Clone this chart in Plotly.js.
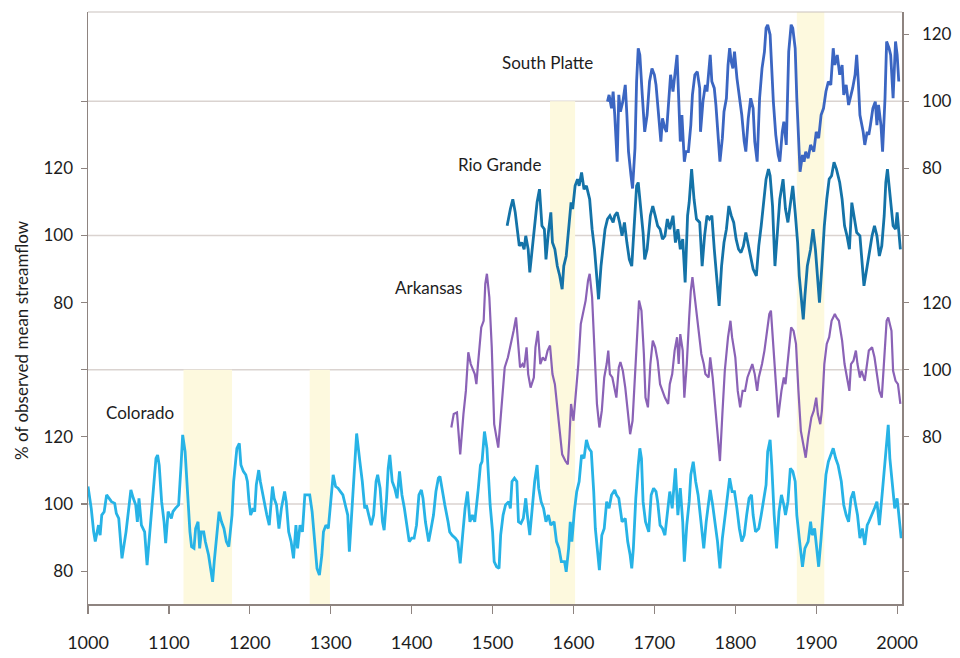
<!DOCTYPE html>
<html>
<head>
<meta charset="utf-8">
<script src="https://cdn.plot.ly/plotly-3.0.1.min.js"></script>
<style>
  html, body { margin: 0; padding: 0; background: #ffffff; }
  #chart { width: 960px; height: 658px; }
</style>
</head>
<body>
<div id="chart"></div>
<script>
// Reconstructed streamflow, % of observed mean, for four western rivers.

const coloradoYears = [
  1000,1004,1007,1009,1013,1015,1017,1020,1023,1026,
  1029,1033,1035,1038,1042,1047,1050,1053,1056,1059,
  1061,1063,1066,1070,1073,1077,1081,1084,1086,1088,
  1091,1094,1096,1099,1103,1105,1108,1112,1115,1117,
  1120,1123,1126,1128,1131,1133,1136,1138,1140,1143,
  1145,1149,1152,1154,1156,1159,1162,1165,1168,1171,
  1174,1178,1180,1184,1187,1189,1192,1195,1197,1199,
  1201,1204,1206,1208,1211,1213,1216,1219,1221,1224,
  1226,1228,1230,1233,1236,1239,1243,1245,1248,1251,
  1254,1257,1259,1262,1265,1268,1272,1274,1277,1280,
  1283,1286,1289,1291,1294,1297,1300,1303,1306,1309,
  1312,1315,1318,1321,1323,1326,1328,1332,1336,1339,
  1342,1344,1347,1350,1353,1356,1358,1361,1364,1366,
  1369,1371,1373,1376,1379,1382,1385,1388,1391,1394,
  1397,1400,1403,1406,1409,1412,1414,1417,1421,1424,
  1427,1430,1433,1435,1438,1441,1445,1447,1450,1454,
  1457,1460,1463,1466,1469,1472,1475,1478,1482,1485,
  1487,1490,1493,1495,1497,1500,1502,1505,1508,1510,
  1513,1516,1520,1522,1524,1527,1530,1532,1535,1538,
  1541,1543,1546,1549,1552,1555,1557,1560,1563,1566,
  1569,1572,1576,1579,1582,1585,1589,1591,1594,1596,
  1598,1601,1604,1607,1610,1613,1616,1619,1622,1625,
  1627,1632,1635,1638,1641,1644,1647,1651,1653,1656,
  1660,1664,1667,1670,1672,1674,1677,1680,1682,1684,
  1686,1689,1693,1696,1699,1702,1704,1707,1710,1713,
  1717,1719,1722,1724,1726,1729,1732,1735,1737,1740,
  1743,1745,1748,1751,1754,1758,1761,1764,1767,1769,
  1772,1775,1778,1781,1784,1787,1791,1793,1796,1799,
  1802,1805,1808,1811,1814,1817,1820,1822,1825,1829,
  1832,1835,1838,1840,1843,1845,1848,1851,1854,1857,
  1860,1862,1865,1868,1871,1874,1876,1879,1881,1883,
  1886,1890,1893,1895,1898,1901,1903,1906,1909,1912,
  1915,1918,1921,1924,1927,1931,1934,1937,1940,1943,
  1946,1948,1951,1954,1957,1960,1963,1965,1969,1972,
  1975,1978,1981,1984,1987,1989,1991,1994,1997,2000,
  2003,2005
];
const coloradoFlow = [
  105.2,98.7,91.7,88.8,93.7,90.7,96.7,97.7,102.7,101.7,
  100.7,100.2,97.2,95.7,83.8,91.7,98.7,104.2,101.7,99.7,
  94.7,101.7,93.7,91.7,81.8,93.7,106.7,113.6,114.6,111.6,
  100.7,94.7,88.3,97.7,95.7,97.7,98.7,99.7,111.6,120.6,
  115.6,102.7,91.7,87.3,86.8,92.7,94.7,86.8,91.7,91.7,
  88.8,84.8,79.8,76.8,82.8,90.7,97.7,94.7,92.7,88.8,
  87.3,96.7,106.7,116.6,118.1,111.6,109.7,108.7,106.7,100.7,
  96.7,98.7,97.7,105.7,110.1,106.7,102.7,98.7,96.7,93.7,
  100.7,105.2,101.7,99.7,92.7,98.7,103.7,100.7,91.7,88.8,
  83.8,93.7,86.8,93.7,91.7,102.7,102.7,102.7,97.7,89.8,
  80.8,78.8,84.8,91.7,93.7,92.7,101.7,108.7,105.2,104.7,
  103.7,102.7,99.7,96.7,85.8,96.7,106.7,121.0,112.6,106.7,
  98.7,99.7,96.7,93.7,96.7,106.7,108.7,104.7,94.7,92.2,
  101.7,110.6,114.6,106.7,104.7,101.7,109.7,102.7,98.7,93.7,
  88.8,89.8,89.8,93.7,102.7,104.2,101.7,94.7,88.8,92.7,
  96.7,103.7,107.7,108.2,103.7,99.7,94.7,91.7,90.7,89.8,
  88.8,82.3,90.7,98.7,103.7,94.7,96.7,94.7,103.7,111.6,
  112.6,121.6,116.6,108.7,99.7,91.7,82.8,81.3,80.8,90.7,
  96.7,99.7,100.7,98.7,106.7,107.7,106.7,94.7,94.2,95.7,
  101.7,96.7,90.7,98.7,106.7,111.6,104.7,100.7,98.7,94.7,
  96.7,93.7,94.7,88.8,86.8,82.8,82.8,79.8,86.8,94.7,
  88.8,97.7,103.7,106.7,114.6,113.6,119.1,116.6,115.6,103.7,
  92.7,80.3,90.7,92.7,100.7,98.7,102.7,104.2,102.7,101.7,
  94.7,95.7,88.8,84.8,80.8,86.8,101.7,111.6,116.6,113.6,
  100.7,94.7,91.7,102.7,104.7,103.7,100.7,93.7,92.7,90.7,
  98.7,103.7,98.7,104.7,110.6,96.7,104.7,94.7,82.8,93.7,
  100.7,108.7,112.6,106.7,102.7,93.7,86.8,94.7,100.7,104.2,
  99.7,93.7,88.8,80.8,89.8,95.7,102.7,107.7,103.7,103.7,
  98.7,92.7,88.8,90.7,96.7,101.7,102.7,96.7,91.7,92.7,
  96.7,101.7,105.7,115.6,119.1,111.6,96.7,86.8,97.7,102.7,
  99.7,96.7,100.7,110.6,109.7,106.7,96.7,89.8,84.8,81.3,
  86.8,88.8,94.7,90.7,92.7,84.8,81.3,89.8,100.7,108.7,
  112.6,114.6,116.6,113.6,111.6,106.7,99.7,96.7,94.7,101.7,
  103.7,100.7,96.7,89.8,92.7,87.8,93.7,94.7,96.7,98.7,
  100.7,93.7,101.7,110.6,118.6,123.6,113.6,106.7,98.7,101.7,
  94.7,89.8
];

const arkansasYears = [
  1449,1452,1456,1460,1464,1467,1470,1473,1478,1480,
  1482,1486,1489,1491,1493,1496,1499,1502,1507,1511,
  1515,1519,1522,1526,1529,1531,1534,1537,1539,1542,
  1544,1547,1551,1553,1556,1559,1562,1565,1568,1571,
  1574,1577,1581,1584,1586,1590,1593,1595,1597,1600,
  1603,1606,1609,1612,1615,1618,1620,1623,1626,1629,
  1632,1635,1638,1641,1643,1645,1648,1651,1653,1656,
  1658,1661,1664,1667,1670,1673,1676,1679,1681,1684,
  1687,1689,1692,1695,1698,1701,1704,1707,1710,1713,
  1717,1719,1722,1725,1728,1730,1732,1735,1737,1740,
  1743,1745,1747,1750,1752,1755,1758,1761,1763,1767,
  1769,1772,1775,1778,1781,1784,1787,1791,1794,1796,
  1800,1803,1806,1809,1812,1815,1818,1821,1824,1827,
  1829,1833,1836,1839,1842,1844,1847,1850,1853,1857,
  1860,1862,1866,1869,1872,1875,1878,1881,1884,1887,
  1890,1894,1897,1900,1902,1905,1907,1910,1913,1916,
  1919,1923,1925,1928,1932,1935,1938,1941,1943,1946,
  1949,1951,1954,1956,1960,1963,1965,1969,1972,1975,
  1978,1981,1984,1987,1989,1993,1995,1998,2001,2004
];
const arkansasFlow = [
  82.8,86.8,87.3,74.8,86.8,93.7,105.2,101.7,98.7,95.7,
  101.7,112.6,114.6,125.6,128.6,121.6,106.7,83.8,76.8,88.8,
  100.7,103.7,106.7,111.6,115.6,108.7,100.7,101.7,100.7,106.7,
  98.7,94.7,97.7,106.7,111.6,101.7,103.7,102.7,105.7,107.2,
  98.7,95.7,86.8,79.8,74.8,72.8,71.8,79.8,89.8,84.8,
  93.7,101.7,113.6,117.6,120.6,126.6,128.6,121.6,106.7,89.8,
  82.8,87.8,97.7,101.7,105.7,98.7,97.7,93.7,91.7,100.7,
  102.3,99.7,94.7,87.8,80.8,84.8,99.7,111.6,120.6,117.6,
  104.7,91.7,88.8,101.7,108.7,106.7,102.7,95.7,93.7,91.7,
  89.8,95.7,98.7,105.7,109.7,101.7,110.6,105.7,91.7,101.7,
  115.6,123.6,127.6,121.6,116.6,111.6,104.7,101.7,98.7,97.7,
  103.7,97.7,89.8,81.8,72.8,86.8,99.7,109.7,114.6,109.7,
  103.7,93.7,88.8,93.7,93.7,97.7,99.7,101.7,98.7,93.7,
  97.7,101.7,105.7,111.6,116.6,117.6,106.7,93.7,85.8,93.7,
  97.7,95.7,106.7,112.6,111.6,107.7,93.7,81.8,77.8,73.8,
  79.8,85.8,87.8,91.7,86.8,83.8,87.8,101.7,107.7,109.7,
  114.6,116.6,115.6,114.6,108.7,101.7,97.7,93.7,101.7,102.7,
  105.7,101.7,97.7,99.7,96.7,101.7,105.7,106.7,103.7,98.7,
  93.7,91.7,101.7,114.6,115.6,111.6,99.7,96.7,95.7,89.8
];

const rioGrandeYears = [
  1518,1520,1522,1525,1528,1531,1533,1536,1539,1541,
  1544,1546,1550,1553,1555,1558,1561,1564,1566,1569,
  1572,1574,1577,1580,1583,1586,1588,1591,1594,1597,
  1599,1602,1605,1607,1610,1613,1616,1620,1623,1626,
  1628,1631,1634,1636,1639,1642,1645,1649,1651,1654,
  1657,1660,1663,1666,1669,1672,1675,1678,1680,1682,
  1686,1688,1691,1695,1698,1701,1704,1707,1710,1713,
  1716,1719,1723,1726,1729,1732,1735,1738,1741,1743,
  1746,1749,1752,1756,1759,1762,1765,1768,1771,1774,
  1777,1780,1783,1786,1789,1792,1795,1798,1801,1804,
  1807,1810,1813,1816,1819,1822,1826,1829,1832,1835,
  1838,1841,1843,1846,1849,1852,1855,1859,1862,1865,
  1868,1871,1874,1877,1879,1882,1884,1886,1889,1893,
  1896,1899,1902,1904,1907,1910,1913,1916,1919,1922,
  1925,1929,1932,1935,1938,1941,1944,1947,1950,1954,
  1956,1959,1963,1966,1969,1972,1975,1978,1981,1984,
  1986,1988,1991,1995,1998,2000,2004
];
const rioGrandeFlow = [
  102.9,105.9,107.9,110.8,106.9,100.9,96.9,97.9,95.9,99.9,
  95.9,89.0,97.9,105.9,109.9,113.8,102.9,101.9,92.9,100.9,
  106.9,97.9,95.9,90.9,88.0,84.0,90.9,93.9,101.9,109.9,
  107.9,114.8,116.8,114.8,118.8,113.8,114.8,110.8,101.9,95.9,
  90.0,81.0,90.9,95.9,101.9,104.9,105.9,103.9,105.9,106.9,
  103.9,99.9,103.9,97.9,92.9,90.9,103.9,114.8,115.8,110.8,
  100.9,92.9,95.9,105.9,108.8,105.9,102.9,101.9,98.9,99.9,
  104.9,101.9,105.9,97.9,101.9,95.9,98.9,86.0,105.9,109.9,
  119.8,110.8,104.9,103.9,90.9,99.9,105.9,104.9,105.9,95.9,
  88.0,79.0,90.9,97.9,101.9,108.8,105.9,103.9,98.9,95.9,
  94.9,96.9,100.9,96.9,92.9,90.0,88.0,96.9,102.9,110.8,
  116.8,119.8,117.8,108.8,90.9,100.9,110.8,116.8,107.9,103.9,
  109.8,114.8,106.9,97.9,88.0,79.0,75.0,82.0,90.9,95.9,
  101.9,95.9,86.0,80.0,90.9,102.9,110.8,116.8,117.8,121.8,
  119.8,115.8,110.8,102.9,99.9,95.9,109.8,105.9,100.9,99.9,
  92.9,85.0,90.9,95.9,99.9,102.9,99.9,93.9,96.9,105.9,
  115.8,119.8,112.8,102.9,101.9,106.9,95.9
];

const southPlatteYears = [
  1642,1644,1647,1649,1651,1654,1656,1658,1661,1664,
  1666,1668,1671,1673,1676,1678,1680,1682,1685,1688,
  1691,1694,1697,1700,1702,1705,1708,1710,1713,1715,
  1718,1720,1723,1726,1728,1730,1732,1734,1737,1739,
  1742,1745,1747,1750,1753,1756,1757,1760,1763,1765,
  1767,1769,1771,1774,1776,1779,1781,1784,1786,1789,
  1791,1793,1795,1797,1799,1802,1805,1808,1811,1813,
  1816,1819,1822,1824,1827,1830,1833,1836,1838,1840,
  1843,1845,1847,1850,1853,1855,1858,1860,1863,1866,
  1869,1871,1874,1876,1878,1880,1883,1885,1887,1890,
  1893,1897,1900,1903,1906,1909,1912,1915,1918,1921,
  1923,1926,1929,1932,1934,1937,1940,1943,1945,1948,
  1950,1952,1954,1958,1960,1963,1965,1967,1970,1973,
  1975,1977,1980,1982,1985,1987,1990,1992,1995,1998,
  2000,2002
];
const southPlatteFlow = [
  99.9,101.9,97.9,102.9,95.9,82.0,101.9,96.9,99.9,104.9,
  95.9,85.0,78.0,74.0,86.0,105.9,115.8,113.8,101.9,90.9,
  95.9,105.9,109.8,107.9,104.9,95.9,88.0,94.9,91.9,90.9,
  99.9,107.9,102.9,109.8,113.8,100.9,88.0,95.9,82.0,85.0,
  85.0,92.9,101.9,107.9,108.8,103.9,90.9,99.9,104.9,102.9,
  107.9,113.8,105.9,103.9,98.9,90.0,82.0,89.0,96.9,100.9,
  110.8,115.8,111.8,109.8,114.8,106.9,100.9,95.9,88.0,85.0,
  94.9,100.9,97.9,88.0,82.0,100.9,109.8,114.8,121.8,122.8,
  119.8,108.8,99.9,90.0,84.0,82.0,90.9,93.9,87.0,114.8,
  122.8,121.8,115.8,100.9,90.0,79.0,84.0,82.0,85.0,83.0,
  87.0,85.0,90.9,89.0,95.9,97.9,102.9,105.9,104.9,115.8,
  110.8,113.8,107.9,110.8,101.9,104.9,98.9,101.9,103.9,107.9,
  113.8,105.9,95.9,90.9,87.0,90.9,90.0,92.9,97.9,99.9,
  92.9,98.9,92.9,85.0,100.9,117.8,115.8,113.8,100.9,117.8,
  113.8,105.9
];

// Severe, widespread drought periods (years)
const droughtStart = [1118, 1274, 1571, 1876];
const droughtEnd   = [1178, 1299, 1602, 1910];

// Axis ticks
const yearTicks = [1000, 1100, 1200, 1300, 1400, 1500, 1600, 1700, 1800, 1900, 2000];
const flowTickText = ['80', '100', '120'];

// ---------------------------------------------------------------------------
// All four records share one vertical scale; each is lifted by its own
// offset so the panels stack 40 % units apart.
const LIFT = { colorado: 0, arkansas: 40, rioGrande: 80, southPlatte: 120 };
const lift = (vals, d) => vals.map(v => v + d);
const Y_RANGE = [70.2, 246.6];

const FONT = 'Lato, "Open Sans", "DejaVu Sans", sans-serif';
const AXIS_COLOR = '#8e8480';

const traces = [
  { x: coloradoYears, y: lift(coloradoFlow, LIFT.colorado), yaxis: 'y',
    mode: 'lines', line: { color: '#27b3e6', width: 2.8 }, name: 'Colorado' },
  { x: arkansasYears, y: lift(arkansasFlow, LIFT.arkansas), yaxis: 'y2',
    mode: 'lines', line: { color: '#8a62b6', width: 2.2 }, name: 'Arkansas' },
  { x: rioGrandeYears, y: lift(rioGrandeFlow, LIFT.rioGrande), yaxis: 'y',
    mode: 'lines', line: { color: '#1473a8', width: 2.8 }, name: 'Rio Grande' },
  { x: southPlatteYears, y: lift(southPlatteFlow, LIFT.southPlatte), yaxis: 'y2',
    mode: 'lines', line: { color: '#3b66c2', width: 2.8 }, name: 'South Platte' }
];

// Left axis: Colorado and Rio Grande scales; right axis: Arkansas and South Platte.
const leftVals = [], leftText = [], rightVals = [], rightText = [];
[LIFT.colorado, LIFT.rioGrande].forEach(d => {
  [80, 100, 120].forEach((v, i) => { leftVals.push(v + d); leftText.push(flowTickText[i]); });
});
[LIFT.arkansas, LIFT.southPlatte].forEach(d => { leftVals.push(100 + d); leftText.push(''); });
[LIFT.arkansas, LIFT.southPlatte].forEach(d => {
  [80, 100, 120].forEach((v, i) => { rightVals.push(v + d); rightText.push(flowTickText[i]); });
});
[LIFT.rioGrande].forEach(d => { rightVals.push(100 + d); rightText.push(''); });
rightVals.push(80 + LIFT.colorado, 100 + LIFT.colorado); rightText.push('', '');

// Drought bands reach up to the baseline of the first record that does not cover them.
const bandTop = [100 + LIFT.arkansas, 100 + LIFT.arkansas, 100 + LIFT.southPlatte, Y_RANGE[1]];
const shapes = droughtStart.map((s, i) => ({
  type: 'rect', layer: 'below', xref: 'x', yref: 'y',
  x0: s, x1: droughtEnd[i], y0: Y_RANGE[0], y1: bandTop[i],
  fillcolor: '#fdf9de', line: { width: 0 }
}));
// Mean-flow (100 %) reference lines
Object.values(LIFT).forEach(d => shapes.push({
  type: 'line', layer: 'below', xref: 'paper', yref: 'y',
  x0: 0, x1: 1, y0: 100 + d, y1: 100 + d,
  line: { color: '#dad3d0', width: 1.6 }
}));
// Top frame edge
shapes.push({ type: 'line', xref: 'paper', yref: 'paper', x0: 0, x1: 1, y0: 1, y1: 1,
  line: { color: '#c9c1bd', width: 1.2 } });

const labelFont = { family: FONT, size: 17, color: '#1d1d1d' };
const annotations = [
  { text: 'South Platte', xref: 'paper', yref: 'paper', x: 0.565, y: 0.914 },
  { text: 'Rio Grande',   xref: 'paper', yref: 'paper', x: 0.506, y: 0.742 },
  { text: 'Arkansas',     xref: 'paper', yref: 'paper', x: 0.418, y: 0.534 },
  { text: 'Colorado',     xref: 'paper', yref: 'paper', x: 0.064, y: 0.324 }
].map(a => Object.assign(a, { showarrow: false, font: labelFont, xanchor: 'center', yanchor: 'middle' }));
annotations.push({
  text: '% of observed mean streamflow', textangle: -90, showarrow: false,
  xref: 'paper', yref: 'paper', x: -0.081, y: 0.446, xanchor: 'center', yanchor: 'middle',
  font: { family: FONT, size: 17, color: '#1d1d1d' }
});

const layout = {
  width: 960, height: 658,
  margin: { l: 88, r: 58, t: 12, b: 54 },
  paper_bgcolor: '#ffffff', plot_bgcolor: '#ffffff',
  showlegend: false,
  font: { family: FONT, size: 17, color: '#1d1d1d' },
  xaxis: {
    range: [1000, 2006], tickvals: yearTicks, ticktext: yearTicks.map(String),
    ticks: 'outside', ticklen: 8, tickwidth: 1.2, tickcolor: AXIS_COLOR,
    showline: true, linecolor: AXIS_COLOR, linewidth: 1.5,
    showgrid: false, zeroline: false, ticklabelstandoff: 14,
    tickfont: { family: FONT, size: 18, color: '#1d1d1d' }
  },
  yaxis: {
    range: Y_RANGE, tickvals: leftVals, ticktext: leftText,
    ticks: 'outside', ticklen: 6, tickwidth: 1.2, tickcolor: AXIS_COLOR,
    showline: true, linecolor: AXIS_COLOR, linewidth: 1.5,
    showgrid: false, zeroline: false, ticklabelstandoff: 4,
    tickfont: { family: FONT, size: 17, color: '#1d1d1d' }
  },
  yaxis2: {
    range: Y_RANGE, overlaying: 'y', side: 'right',
    tickvals: rightVals, ticktext: rightText,
    ticks: 'outside', ticklen: 5, tickwidth: 1.2, tickcolor: AXIS_COLOR,
    showline: true, linecolor: AXIS_COLOR, linewidth: 1.5,
    showgrid: false, zeroline: false, ticklabelstandoff: 10,
    tickfont: { family: FONT, size: 17, color: '#1d1d1d' }
  },
  shapes: shapes,
  annotations: annotations
};

Plotly.newPlot('chart', traces, layout, { displayModeBar: false, staticPlot: true });
</script>
</body>
</html>
